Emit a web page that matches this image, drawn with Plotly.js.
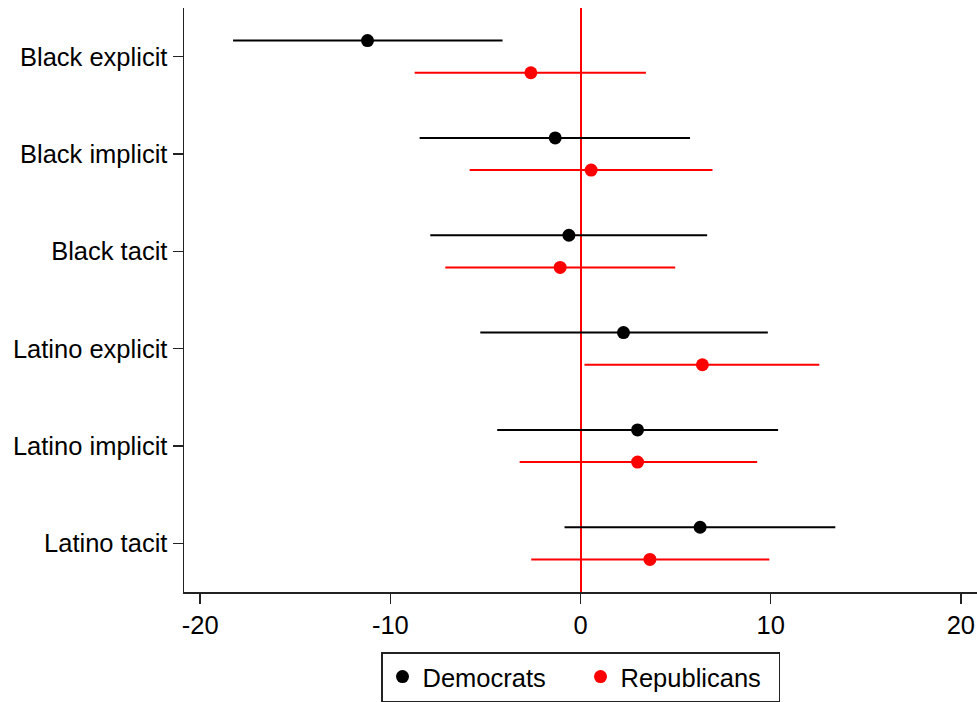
<!DOCTYPE html>
<html>
<head>
<meta charset="utf-8">
<script src="https://cdn.plot.ly/plotly-3.0.1.min.js"></script>
<style>html,body{margin:0;padding:0;background:#fff;}#chart{width:977px;height:702px;}</style>
</head>
<body>
<div id="chart"></div>
<script>
// Categories (top to bottom)
const categories = ["Black explicit", "Black implicit", "Black tacit", "Latino explicit", "Latino implicit", "Latino tacit"];

// Democrats: point estimate and 95% CI
const demEstimate = [-11.2, -1.33, -0.61, 2.26, 3.0, 6.29];
const demLower    = [-18.27, -8.46, -7.90, -5.27, -4.38, -0.84];
const demUpper    = [-4.10, 5.76, 6.66, 9.85, 10.39, 13.40];

// Republicans: point estimate and 95% CI
const repEstimate = [-2.61, 0.56, -1.07, 6.41, 3.0, 3.65];
const repLower    = [-8.72, -5.83, -7.11, 0.21, -3.20, -2.59];
const repUpper    = [3.44, 6.94, 4.98, 12.56, 9.29, 9.93];

const xTicks = [-20, -10, 0, 10, 20];

const idx = categories.map((c, i) => i);
const offset = 0.165;
const FONT = "Liberation Sans, Arial, sans-serif";

function trace(name, est, lo, hi, color, dy) {
  return {
    type: "scatter",
    mode: "markers",
    name: name,
    x: est,
    y: idx.map(i => i + dy),
    marker: {color: color, size: 13, line: {width: 0}},
    error_x: {
      type: "data", symmetric: false,
      array: est.map((v, i) => hi[i] - v),
      arrayminus: est.map((v, i) => v - lo[i]),
      color: color, thickness: 2, width: 0
    },
    cliponaxis: false
  };
}

const data = [
  trace("Democrats", demEstimate, demLower, demUpper, "#000000", -offset),
  trace("Republicans", repEstimate, repLower, repUpper, "#ff0000", offset)
];

const layout = {
  width: 977, height: 702,
  margin: {l: 184, r: 0, t: 8, b: 109, pad: 0},
  paper_bgcolor: "#fff", plot_bgcolor: "#fff",
  font: {family: FONT, size: 25.5, color: "#000"},
  showlegend: true,
  legend: {
    orientation: "h", x: 0.5, xanchor: "center", y: -0.103, yanchor: "top",
    bordercolor: "#222", borderwidth: 1.5, bgcolor: "#fff",
    font: {family: FONT, size: 25.5, color: "#000"},
    entrywidth: 153, entrywidthmode: "pixels",
    itemclick: false
  },
  xaxis: {
    range: [-20.85, 20.85], autorange: false,
    tickvals: xTicks, ticktext: xTicks.map(String),
    ticks: "outside", ticklen: 10, tickwidth: 1.5, tickcolor: "#222",
    showline: true, linecolor: "#222", linewidth: 1.5,
    showgrid: false,
    zeroline: true, zerolinecolor: "#ff0000", zerolinewidth: 2,
    tickfont: {family: FONT, size: 25.5, color: "#000"}
  },
  yaxis: {
    range: [5.5, -0.5], autorange: false,
    tickvals: idx, ticktext: categories,
    ticks: "outside", ticklen: 10, tickwidth: 1.5, tickcolor: "#222",
    showline: true, linecolor: "#222", linewidth: 1.5,
    showgrid: false, zeroline: false,
    tickfont: {family: FONT, size: 25.5, color: "#000"}
  }
};

Plotly.newPlot("chart", data, layout, {displayModeBar: false, staticPlot: true});
</script>
</body>
</html>
